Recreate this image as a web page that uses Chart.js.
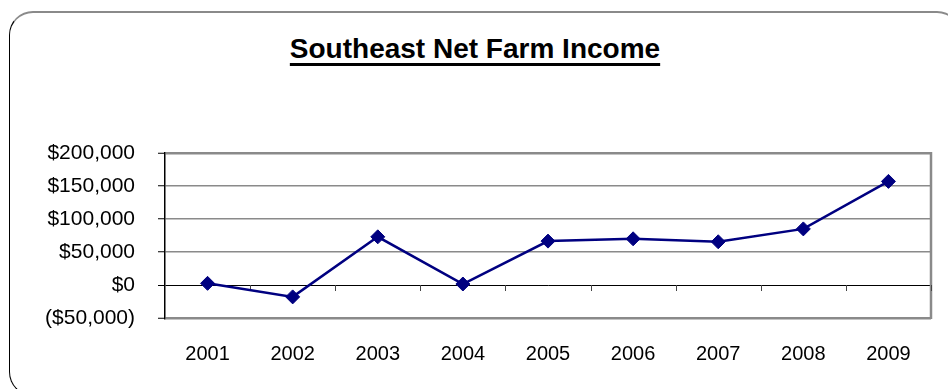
<!DOCTYPE html>
<html>
<head>
<meta charset="utf-8">
<script src="https://cdn.jsdelivr.net/npm/chart.js@4"></script>
<style>
  html, body { margin: 0; padding: 0; background: #fff; }
  #wrap { position: relative; width: 948px; height: 389px; overflow: hidden; }
  #frame {
    position: absolute; left: 9px; top: 11px; width: 950px; height: 382px;
    border: 1px solid #000; border-top: 2px solid #8a8a8a; border-right-color: #8a8a8a;
    border-radius: 24px;
  }
  #title {
    position: absolute; left: 0; top: 33px; width: 950px; text-align: center;
    font: bold 28px "Liberation Sans", Arial, sans-serif; line-height: 32px;
    text-decoration: underline; text-decoration-thickness: 3px; text-underline-offset: 5px;
  }
  canvas { position: absolute; left: 0; top: 0; }
</style>
</head>
<body>
<div id="wrap">
  <div id="frame"></div>
  <div id="title">Southeast Net Farm Income</div>
  <canvas id="c" width="948" height="389"></canvas>
</div>
<script>
// data
const years = ['2001', '2002', '2003', '2004', '2005', '2006', '2007', '2008', '2009'];
const netIncome = [2500, -18000, 73000, 1500, 66500, 70000, 65500, 85000, 157000];
const yTicks = [-50000, 0, 50000, 100000, 150000, 200000];

const money = (v) => {
  const s = '$' + Math.abs(v).toLocaleString('en-US');
  return v < 0 ? '(' + s + ')' : s;
};

// right edge of plot + small ticks hanging from the zero line
const plotFrame = {
  id: 'plotFrame',
  beforeDatasetsDraw(chart) {
    const { ctx, chartArea, scales } = chart;
    const y0 = scales.y.getPixelForValue(0);
    ctx.save();
    ctx.strokeStyle = '#8a8a8a';
    ctx.lineWidth = 2.5;
    ctx.beginPath();
    ctx.moveTo(chartArea.right, chartArea.top - 1);
    ctx.lineTo(chartArea.right, chartArea.bottom + 1);
    ctx.stroke();
    ctx.strokeStyle = '#444';
    ctx.lineWidth = 1;
    ctx.beginPath();
    for (let i = 0; i < years.length; i++) {
      const x = Math.round(scales.x.getPixelForValue(i + 0.5)) + 0.5;
      ctx.moveTo(x, y0);
      ctx.lineTo(x, y0 + 6);
    }
    ctx.stroke();
    ctx.restore();
  }
};

new Chart(document.getElementById('c'), {
  type: 'line',
  data: {
    labels: years,
    datasets: [{
      data: netIncome,
      borderColor: '#000080',
      backgroundColor: '#000080',
      borderWidth: 2.5,
      pointStyle: 'rectRot',
      pointRadius: 7,
      pointBorderWidth: 1,
      tension: 0
    }]
  },
  options: {
    responsive: false,
    animation: false,
    layout: { padding: { top: 153, right: 17, left: 0, bottom: 0 } },
    plugins: { legend: { display: false }, tooltip: { enabled: false }, title: { display: false } },
    scales: {
      x: {
        offset: true,
        grid: { display: false, drawTicks: false },
        border: { display: false },
        ticks: { color: '#000', padding: 24, font: { family: '"Liberation Sans", Arial', size: 20 } },
        afterFit: (s) => { s.height = 71; }
      },
      y: {
        min: -50000,
        max: 200000,
        afterBuildTicks: (s) => { s.ticks = yTicks.map(v => ({ value: v })); },
        grid: {
          color: (c) => c.tick && c.tick.value === 0 ? '#000' : '#8a8a8a',
          lineWidth: (c) => {
            if (!c.tick) return 1.5;
            if (c.tick.value === 0) return 1;
            if (c.tick.value === 200000 || c.tick.value === -50000) return 2.5;
            return 1.5;
          },
          tickColor: '#000',
          tickLength: 7,
          tickWidth: 1
        },
        border: { color: '#000', width: 1.5 },
        ticks: {
          color: '#000',
          padding: 23,
          font: { family: '"Liberation Sans", Arial', size: 21 },
          callback: (v) => money(v)
        },
        afterFit: (s) => { s.width = 165; }
      }
    }
  },
  plugins: [plotFrame]
});
</script>
</body>
</html>
